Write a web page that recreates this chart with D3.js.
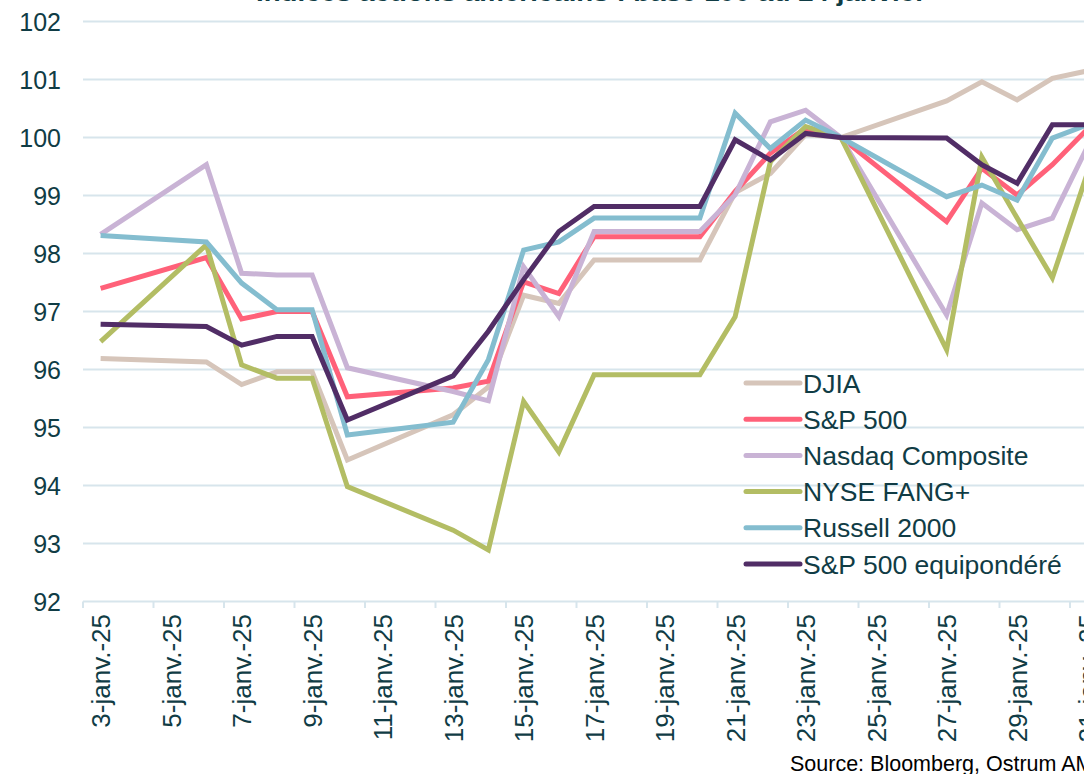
<!DOCTYPE html>
<html>

<head>
    <meta charset=utf-8 />
    <script src="https://cdn.jsdelivr.net/npm/d3@7"></script>
    <title>Indices actions americains</title>
    <style>
        html,
        body {
            margin: 0;
            padding: 0;
            background: #fff;
        }

        svg {
            display: block;
            font-family: "Liberation Sans", Arial, sans-serif;
        }
    </style>
</head>

<body>
    <div id="svg-canvas"></div>
    <script>
        // jours de bourse (janvier 2025)
        var days = [3, 6, 7, 8, 9, 10, 13, 14, 15, 16, 17, 20, 21, 22, 23, 24, 27, 28, 29, 30, 31];

        var djia = [96.19, 96.13, 95.74, 95.96, 95.96, 94.44, 95.22, 95.70, 97.28, 97.14, 97.89, 97.89, 99.05, 99.38, 100.05, 100.0, 100.63, 100.96, 100.65, 101.02, 101.15];
        var sp500 = [97.40, 97.93, 96.87, 97.0, 97.0, 95.53, 95.68, 95.80, 97.51, 97.31, 98.29, 98.29, 99.07, 99.73, 100.16, 100.0, 98.55, 99.47, 99.01, 99.53, 100.15];
        var nasdaq = [98.33, 99.53, 97.66, 97.63, 97.63, 96.03, 95.62, 95.46, 97.77, 96.91, 98.38, 98.38, 99.01, 100.27, 100.47, 100.0, 96.94, 98.87, 98.41, 98.61, 99.85];
        var fang = [96.48, 98.15, 96.08, 95.85, 95.85, 93.98, 93.23, 92.89, 95.45, 94.58, 95.91, 95.91, 96.91, 99.58, 100.19, 100.0, 96.34, 99.66, 98.61, 97.58, 99.4];
        var russell = [98.31, 98.20, 97.49, 97.03, 97.03, 94.87, 95.09, 96.17, 98.06, 98.20, 98.61, 98.61, 100.42, 99.81, 100.30, 100.0, 98.98, 99.18, 98.92, 99.99, 100.22];
        var spEqual = [96.78, 96.74, 96.42, 96.57, 96.57, 95.13, 95.89, 96.66, 97.55, 98.38, 98.81, 98.81, 99.96, 99.61, 100.07, 100.0, 99.99, 99.53, 99.21, 100.22, 100.22];

        var seriesNames = ['DJIA', 'S&P 500', 'Nasdaq Composite', 'NYSE FANG+', 'Russell 2000', 'S&P 500 equipondéré'];
        var seriesValues = [djia, sp500, nasdaq, fang, russell, spEqual];
        var colors = ['#D6C5BA', '#FF6179', '#C9B3D5', '#B3BD64', '#84BDCF', '#512D66'];

        var yTicks = [92, 93, 94, 95, 96, 97, 98, 99, 100, 101, 102];
        var labelDays = [3, 5, 7, 9, 11, 13, 15, 17, 19, 21, 23, 25, 27, 29, 31];

        var textColor = '#103C45';
        var gridColor = '#D7E5EC';
    </script>
    <script>
        var W = 1084, H = 774;
        var svg = d3.select('#svg-canvas').append('svg')
            .attr('width', W)
            .attr('height', H);

        function day(d) {
            return new Date(Date.UTC(2025, 0, d));
        }
        var halfDay = 12 * 3600 * 1000;

        var x = d3.scaleUtc()
            .domain([new Date(+day(3) - halfDay), new Date(+day(31) + halfDay)])
            .range([83, 83 + 29 * 35.25]);

        var y = d3.scaleLinear()
            .domain([92, 102])
            .range([601.5, 21.5]);

        // titre (coupé en haut)
        svg.append('text')
            .attr('x', 591)
            .attr('y', 0.5)
            .attr('text-anchor', 'middle')
            .attr('font-size', 24)
            .attr('font-weight', 'bold')
            .attr('fill', textColor)
            .attr('textLength', 670)
            .attr('lengthAdjust', 'spacingAndGlyphs')
            .text('Indices actions américains : base 100 au 24 janvier');

        // grille horizontale
        svg.append('g').selectAll('line')
            .data(yTicks)
            .enter().append('line')
            .attr('x1', x.range()[0])
            .attr('x2', x.range()[1])
            .attr('y1', d => y(d))
            .attr('y2', d => y(d))
            .attr('stroke', gridColor)
            .attr('stroke-width', 2);

        // labels axe y
        svg.append('g').selectAll('text')
            .data(yTicks)
            .enter().append('text')
            .attr('x', 61)
            .attr('y', d => y(d))
            .attr('dy', '0.36em')
            .attr('text-anchor', 'end')
            .attr('font-size', 25)
            .attr('fill', textColor)
            .text(d => d);

        // axe x : graduations entre les jours, labels au centre
        svg.append('g').selectAll('line')
            .data(labelDays)
            .enter().append('line')
            .attr('x1', d => x(new Date(+day(d) - halfDay)))
            .attr('x2', d => x(new Date(+day(d) - halfDay)))
            .attr('y1', 601.5)
            .attr('y2', 608)
            .attr('stroke', gridColor)
            .attr('stroke-width', 2);

        svg.append('g').selectAll('text')
            .data(labelDays)
            .enter().append('text')
            .attr('transform', d => 'translate(' + x(day(d)) + ',614) rotate(-90)')
            .attr('dy', '0.36em')
            .attr('text-anchor', 'end')
            .attr('font-size', 26)
            .attr('fill', textColor)
            .text(d => d + '-janv.-25');

        // courbes
        var line = d3.line()
            .x((d, i) => x(day(days[i])))
            .y(d => y(d));

        svg.append('g').selectAll('path')
            .data(seriesValues)
            .enter().append('path')
            .attr('fill', 'none')
            .attr('stroke', (d, i) => colors[i])
            .attr('stroke-width', 5)
            .attr('stroke-linejoin', 'miter')
            .attr('d', d => line(d));

        // légende
        var legend = svg.append('g').attr('transform', 'translate(744,383)');
        var item = legend.selectAll('g')
            .data(seriesNames)
            .enter().append('g')
            .attr('transform', (d, i) => 'translate(0,' + i * 36.2 + ')');

        item.append('line')
            .attr('x1', 2)
            .attr('x2', 56)
            .attr('stroke', (d, i) => colors[i])
            .attr('stroke-width', 5)
            .attr('stroke-linecap', 'round');

        item.append('text')
            .attr('x', 59)
            .attr('dy', '0.36em')
            .attr('font-size', 26.5)
            .attr('fill', textColor)
            .text(d => d);

        // source
        svg.append('text')
            .attr('x', 790)
            .attr('y', 771)
            .attr('font-size', 21.5)
            .attr('fill', '#000')
            .text('Source: Bloomberg, Ostrum AM');
    </script>
</body>

</html>
